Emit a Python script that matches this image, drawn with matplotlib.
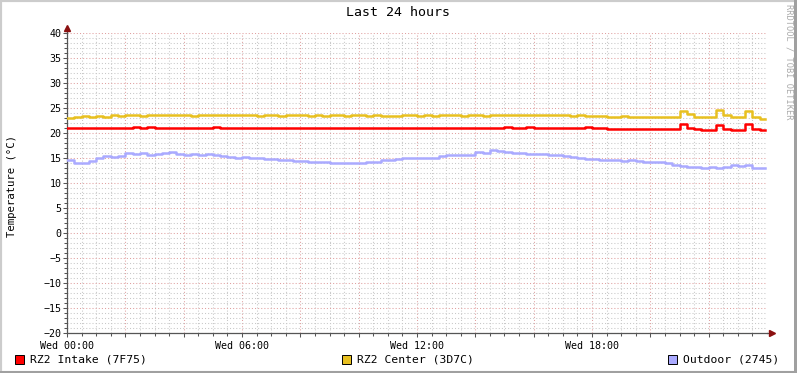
import numpy as np
import matplotlib
matplotlib.use("Agg")
import matplotlib.pyplot as plt
from matplotlib.patches import Rectangle

# 15 minute samples, Wed 00:00 .. 23:45
intake = [21.1, 21.1, 21.1, 21.1, 21.1, 21.1, 21.1, 21.1, 21.1, 21.2,
          21.1, 21.2, 21.1, 21.1, 21.1, 21.1, 21.1, 21.1, 21.1, 21.1,
          21.3, 21.1, 21.1, 21.1, 21.1, 21.1, 21.1, 21.1, 21.1, 21.1,
          21.1, 21.1, 21.1, 21.1, 21.0, 21.1, 21.0, 21.1, 21.1, 21.0,
          21.1, 21.0, 21.1, 21.0, 21.1, 21.1, 21.1, 21.1, 21.1, 21.1,
          21.0, 21.1, 21.1, 21.0, 21.1, 21.1, 21.1, 21.1, 21.1, 21.1,
          21.3, 21.1, 21.1, 21.2, 21.1, 21.1, 21.1, 21.1, 21.1, 21.1,
          21.1, 21.2, 21.0, 21.0, 20.9, 20.9, 20.9, 20.8, 20.8, 20.8,
          20.8, 20.8, 20.8, 20.8, 21.9, 21.0, 20.9, 20.7, 20.7, 21.7,
          20.9, 20.7, 20.7, 21.9, 20.8, 20.7]
center = [23.1, 23.2, 23.4, 23.3, 23.4, 23.3, 23.6, 23.5, 23.6, 23.6,
          23.5, 23.6, 23.6, 23.6, 23.6, 23.6, 23.6, 23.5, 23.6, 23.6,
          23.6, 23.6, 23.6, 23.6, 23.6, 23.6, 23.5, 23.6, 23.6, 23.5,
          23.6, 23.6, 23.6, 23.5, 23.6, 23.5, 23.6, 23.6, 23.5, 23.6,
          23.6, 23.5, 23.6, 23.5, 23.4, 23.5, 23.6, 23.6, 23.5, 23.6,
          23.4, 23.6, 23.6, 23.6, 23.5, 23.6, 23.6, 23.5, 23.6, 23.6,
          23.6, 23.6, 23.6, 23.6, 23.6, 23.6, 23.6, 23.6, 23.6, 23.5,
          23.6, 23.5, 23.4, 23.4, 23.3, 23.3, 23.4, 23.2, 23.2, 23.3,
          23.2, 23.2, 23.3, 23.2, 24.4, 23.9, 23.3, 23.3, 23.2, 24.6,
          23.6, 23.3, 23.3, 24.4, 23.3, 22.9]
outdoor = [14.6, 14.0, 14.1, 14.5, 15.0, 15.4, 15.3, 15.4, 16.0, 15.8,
           16.0, 15.6, 15.8, 16.0, 16.2, 15.8, 15.6, 15.8, 15.6, 15.9,
           15.6, 15.4, 15.3, 15.1, 15.2, 15.0, 15.0, 14.8, 14.8, 14.6,
           14.6, 14.5, 14.4, 14.3, 14.2, 14.3, 14.1, 14.0, 14.0, 14.1,
           14.1, 14.2, 14.3, 14.6, 14.7, 14.9, 15.0, 15.1, 15.1, 15.0,
           15.1, 15.4, 15.6, 15.6, 15.6, 15.7, 16.2, 16.0, 16.6, 16.4,
           16.2, 16.1, 16.0, 15.8, 15.8, 15.9, 15.7, 15.6, 15.5, 15.2,
           15.0, 14.9, 14.9, 14.7, 14.6, 14.6, 14.4, 14.6, 14.5, 14.3,
           14.3, 14.2, 14.0, 13.6, 13.4, 13.3, 13.2, 13.0, 13.3, 13.0,
           13.2, 13.6, 13.4, 13.6, 13.1, 13.0]

hours = np.arange(len(intake)) * 0.25
t = np.append(hours, 23.93)

series = [
    ("RZ2 Intake (7F75)", intake, "#FF0000"),
    ("RZ2 Center (3D7C)", center, "#E8C020"),
    ("Outdoor (2745)", outdoor, "#AAAAFF"),
]
xlabels = ["Wed 00:00", "Wed 06:00", "Wed 12:00", "Wed 18:00"]

W, H = 797, 373
plt.rcParams['font.family'] = ['DejaVu Sans Mono']
fig = plt.figure(figsize=(W / 100, H / 100), dpi=100)
fig.patch.set_facecolor("white")


def fx(x):
    return x / W


def fy(y):
    return 1 - y / H


ax = fig.add_axes([fx(67), fy(333), fx(767) - fx(67), fy(33) - fy(333)])
ax.set_facecolor("white")

for name, vals, col in series:
    ax.step(t, np.append(vals, vals[-1]), where="post", color=col, lw=1.8, zorder=3)

ax.set_xlim(0, 24)
ax.set_ylim(-20, 40)

ax.set_xticks(np.arange(0, 24, 2))
ax.set_xticklabels([xlabels[i // 3] if i % 3 == 0 else "" for i in range(12)])
ax.set_xticks(np.arange(0, 24, 0.5), minor=True)
ax.set_yticks(np.arange(-20, 41, 5))
ax.set_yticks(np.arange(-20, 41, 1), minor=True)

ax.grid(which="minor", color="#C8C8C8", lw=0.75, linestyle=(0, (1, 2)), zorder=0)
ax.grid(which="major", color="#E0A0A0", lw=0.75, linestyle=(0, (1, 2)), zorder=1)
ax.set_axisbelow(True)

ax.tick_params(axis="both", which="major", length=3, width=0.75, color="#555555",
               labelsize=7.2, pad=1)
ax.tick_params(axis="both", which="minor", length=2, width=0.75, color="#555555")
ax.tick_params(axis="x", pad=3)

for s in ["top", "right"]:
    ax.spines[s].set_visible(False)
for s in ["left", "bottom"]:
    ax.spines[s].set_color("#555555")
    ax.spines[s].set_linewidth(0.9)

# axis arrows
ax.plot([0, 0], [1, 1.012], color="#555555", lw=0.9, transform=ax.transAxes, clip_on=False)
ax.plot([1, 1.005], [0, 0], color="#555555", lw=0.9, transform=ax.transAxes, clip_on=False)
ax.plot([0], [1.016], marker="^", ms=5, color="#8B1010", transform=ax.transAxes, clip_on=False)
ax.plot([1.007], [0], marker=">", ms=5, color="#8B1010", transform=ax.transAxes, clip_on=False)

fig.text(fx(12), fy(186), "Temperature (°C)", rotation=90, ha="center", va="center",
         fontsize=7.7)
fig.text(fx(398), fy(13), "Last 24 hours", ha="center", va="center", fontsize=9.5)
fig.text(fx(789), fy(4), "RRDTOOL / TOBI OETIKER", rotation=270, ha="center", va="top",
         fontsize=6.2, color="#AAAAAA")

# legend
legend_x = [15, 342, 668]
for (name, vals, col), lx in zip(series, legend_x):
    fig.patches.append(Rectangle((fx(lx), fy(363.5)), 9 / W, 9 / H, transform=fig.transFigure,
                                 facecolor=col, edgecolor="black", lw=0.7))
    fig.text(fx(lx + 15), fy(359), name, ha="left", va="center", fontsize=8.2)

# frame
fig.patches.append(Rectangle((0, 0), 1, 1, transform=fig.transFigure, fill=False,
                             edgecolor="#CCCCCC", lw=3))
fig.patches.append(Rectangle((fx(794), 0), 3 / W, 1, transform=fig.transFigure,
                             facecolor="#A0A0A0", edgecolor="none"))
fig.patches.append(Rectangle((0, 0), 1, 2 / H, transform=fig.transFigure,
                             facecolor="#A0A0A0", edgecolor="none"))

fig.savefig("out.png", dpi=100)
